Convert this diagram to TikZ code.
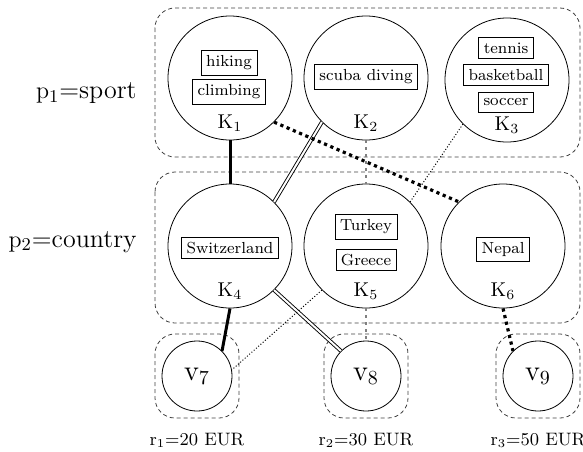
\documentclass[tikz,border=0pt]{standalone}
\usepackage{amsmath}
\usetikzlibrary{positioning, calc}

\begin{document}
\begin{tikzpicture}[x=0.5pt, y=-0.5pt,
    groupbox/.style={draw=black!75, dash pattern=on 2pt off 1.5pt, rounded corners=10pt},
    cluster/.style={draw, circle, minimum size=62pt, inner sep=0pt},
    leaf/.style={draw, circle, minimum size=35pt, inner sep=0pt, font=\Large},
    valuebox/.style={draw, font=\footnotesize, inner sep=2.5pt, minimum height=10pt},
    heavyline/.style={line width=1.5pt},
    doubleline/.style={double, double distance=1pt, line width=0.45pt},
    greydash/.style={draw=gray, dash pattern=on 1.5pt off 2pt, line width=0.6pt},
    heavydots/.style={line width=1.6pt, dash pattern=on 1.6pt off 1.8pt},
    finedots/.style={line width=0.5pt, dash pattern=on 0.5pt off 1pt}]
\useasboundingbox (0,0) rectangle (583,451);

% groups
\draw[groupbox] (155,8) rectangle (580,157);
\draw[groupbox] (155,172) rectangle (580,323);

% clusters
\foreach \n/\x/\y/\k in {K1/230/78/1, K2/366/78/2, K3/507/80/3,
                         K4/230/246/4, K5/366/246/5, K6/503/246/6} {
    \node[cluster] (\n) at (\x,\y) {};
    \node (\n-label) at (\x,\y+45) {$\mathrm{K}_{\k}$};
}

% values
\node[valuebox] (hiking) at (229,63) {hiking};
\node[valuebox] (climbing) at (229,92) {climbing};
\node[valuebox] (scuba) at (366,77) {scuba diving};
\node[valuebox] (tennis) at (506,48) {tennis};
\node[valuebox] (basketball) at (506,75) {basketball};
\node[valuebox] (soccer) at (506,102) {soccer};
\node[valuebox] (switzerland) at (230,248) {Switzerland};
\node[valuebox] (turkey) at (366,227) {Turkey};
\node[valuebox] (greece) at (366,260) {Greece};
\node[valuebox] (nepal) at (503,249) {Nepal};

% leaves
\foreach \n/\x/\r/\k in {v7/197/20/1, v8/366/30/2, v9/538/50/3} {
    \node[leaf] (\n) at (\x,376) {$\mathrm{v}_{\the\numexpr\k+6\relax}$};
    \draw[groupbox] ($(\n)+(-42,-42)$) rectangle ($(\n)+(42,42)$);
    \node[font=\small] (r\k) at (\x,440) {$\mathrm{r}_{\k}$=\r\ EUR};
}

% parameters
\node[anchor=east, inner sep=0pt, font=\fontsize{13}{15}\selectfont] (p1) at (137,93) {$\mathrm{p}_1$=sport};
\node[anchor=east, inner sep=0pt, font=\fontsize{13}{15}\selectfont] (p2) at (137,242) {$\mathrm{p}_2$=country};

% links
\draw[heavyline] (K1.south) -- (K4.north);
\draw[heavyline] (K4.south) -- (v7.45);
\draw[doubleline] (K2.-135) -- (K4.45);
\draw[doubleline] (K4.-45) -- (v8.135);
\draw[greydash] (K2.south) -- (K5.north);
\draw[greydash] (K5.south) -- (v8.north);
\draw[heavydots] (K1.-45) -- (K6.135);
\draw[heavydots] (K6.south) -- (v9.135);
\draw[finedots] (K3.-135) -- (K5.45);
\draw[finedots] (K5.-135) -- (v7.10);
\end{tikzpicture}
\end{document}
